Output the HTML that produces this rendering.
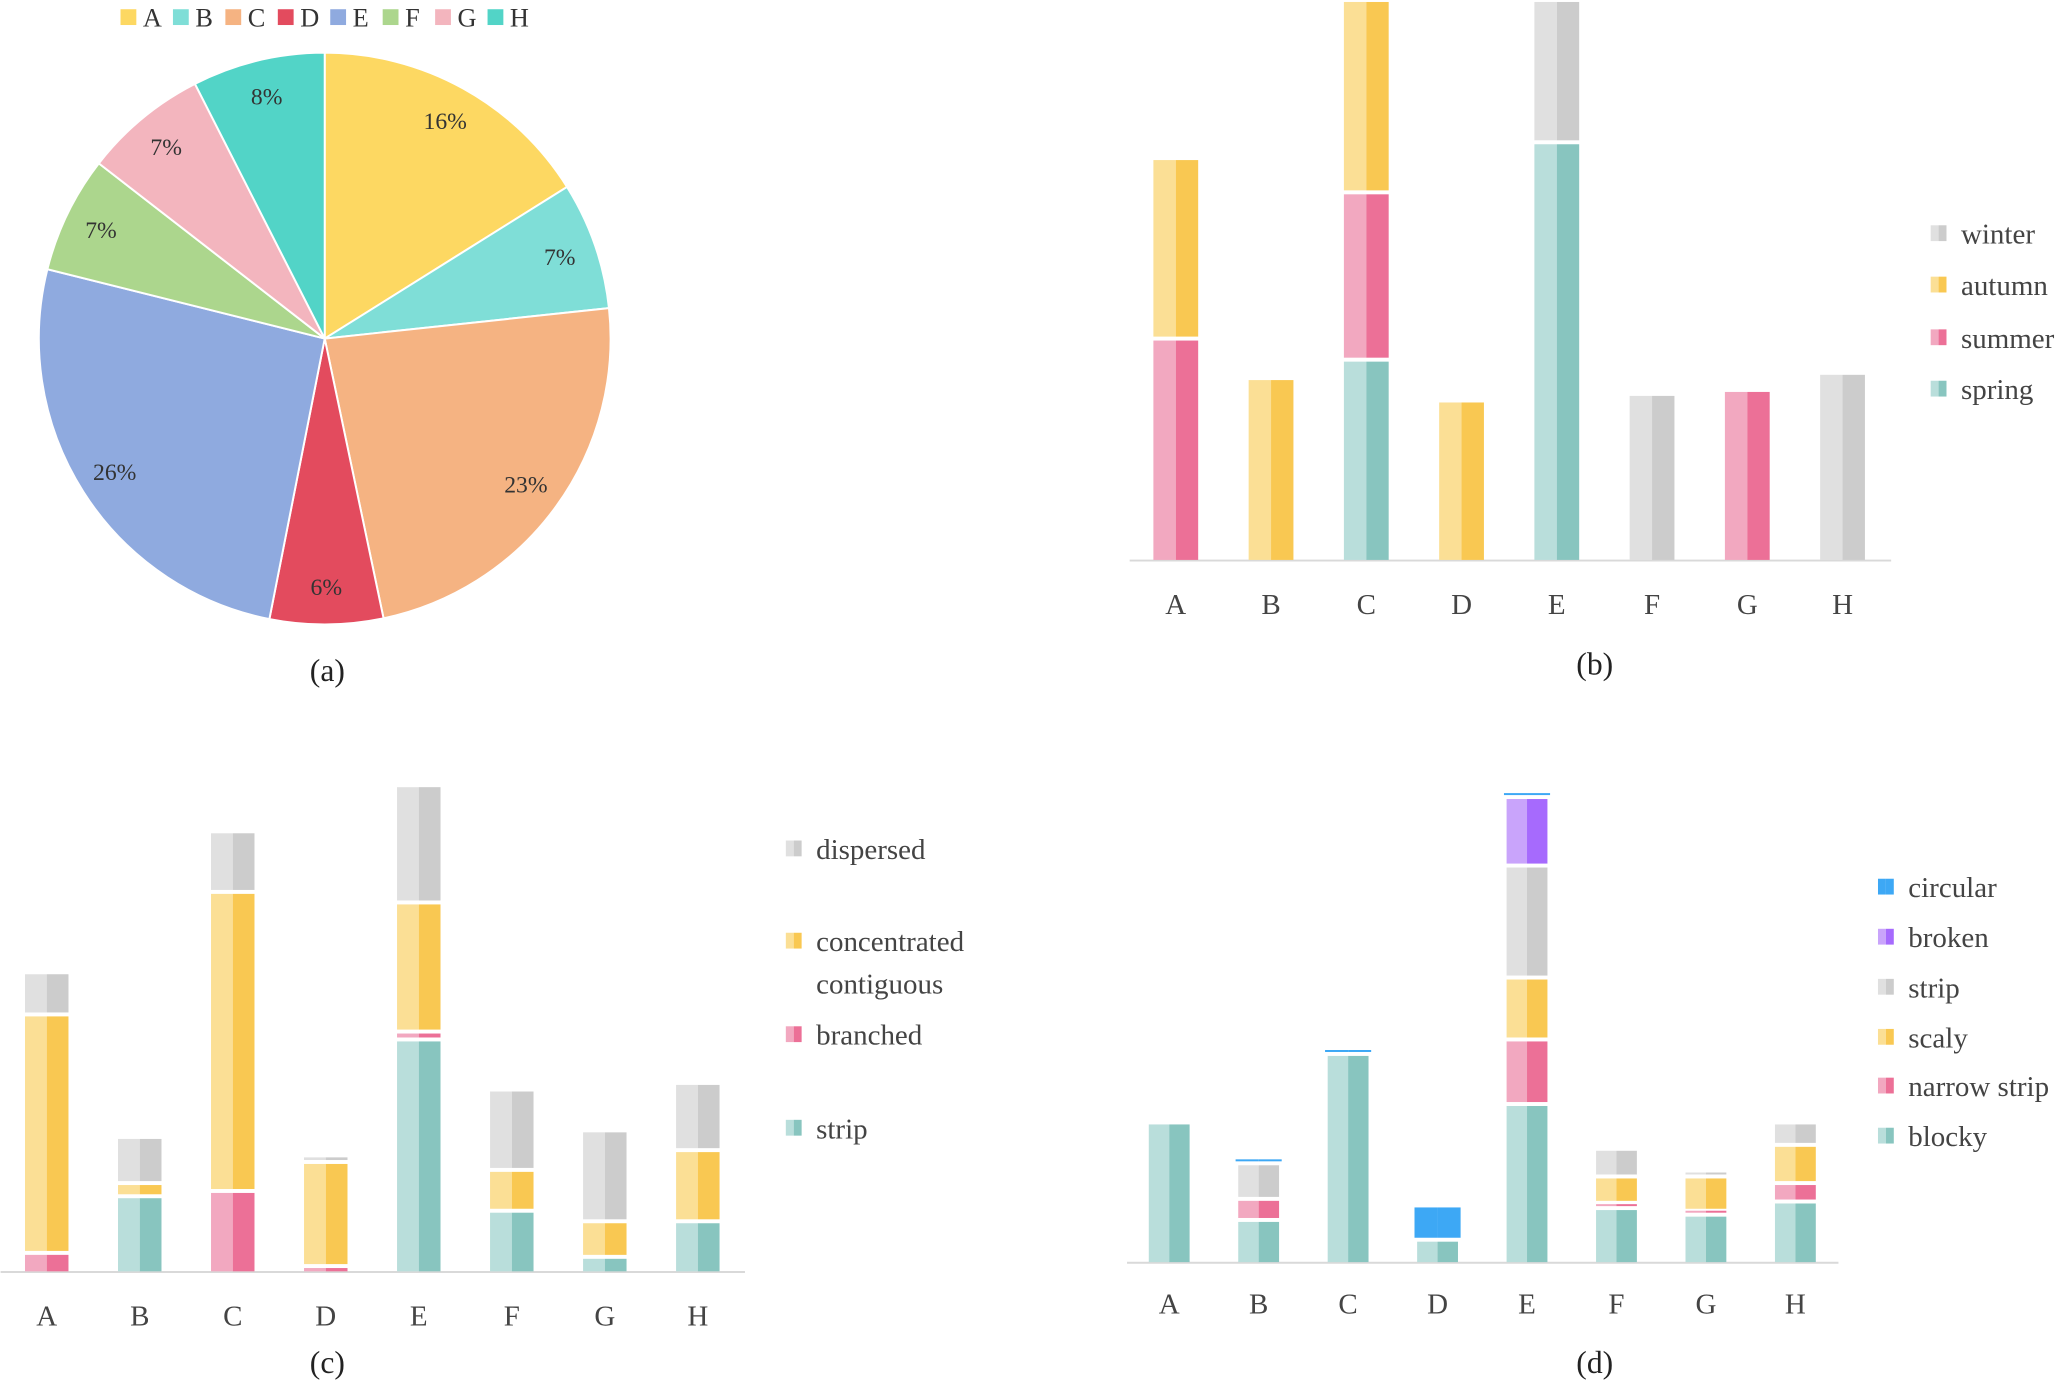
<!DOCTYPE html>
<html><head><meta charset="utf-8"><style>
html,body{margin:0;padding:0;background:#fff;}
svg{display:block;font-family:"Liberation Serif",serif;}
</style></head><body>
<svg id="root" width="2067" height="1382" viewBox="0 0 1568 1049" xmlns="http://www.w3.org/2000/svg">
<g id="pie"></g>
<g id="chartB"></g>
<g id="chartC"></g>
<g id="chartD"></g>
<text x="248" y="517" font-size="24" text-anchor="middle" fill="#222">(a)</text>
<text x="1210" y="512" font-size="24" text-anchor="middle" fill="#222">(b)</text>
<text x="248" y="1042" font-size="24" text-anchor="middle" fill="#222">(c)</text>
<text x="1210" y="1042" font-size="24" text-anchor="middle" fill="#222">(d)</text>
</svg>
<script>
const NS="http://www.w3.org/2000/svg";
// ---- data ----
const pieCats=["A","B","C","D","E","F","G","H"];
const pieVals=[16.1,7.2,23.4,6.4,25.8,6.6,7.0,7.5];
const pieColors=["#fdd862","#7fded7","#f5b382","#e34b5e","#8faadf","#acd68d","#f3b5be","#52d4c7"];

const barCats=["A","B","C","D","E","F","G","H"];
const bSeries=["spring","summer","autumn","winter"];
const bSpring=[0,0,152,0,317,0,0,0];
const bSummer=[168,0,127,0,0,0,129,0];
const bAutumn=[137,138,146,121,0,0,0,0];
const bWinter=[0,0,0,0,108,126,0,142];

const cSeries=["strip","branched","concentrated contiguous","dispersed"];
const cStrip=[0,57,0,0,176,46,11,38];
const cBranched=[14,0,61,4,6,0,0,0];
const cConc=[181,10,227,79,98,31,27,54];
const cDisp=[32,35,46,5,89,61,69,51];

const dSeries=["blocky","narrow strip","scaly","strip","broken","circular"];
const dBlocky=[106,32,158,17,120,41,36,46];
const dNarrow=[0,16,0,0,49,4,3,14];
const dScaly=[0,0,0,0,47,20,26,29];
const dStrip=[0,27,0,0,85,21,4,17];
const dBroken=[0,0,0,0,52,0,0,0];
const dCircular=[0,3,3,26,3,0,0,0];

const PAL={teal:["#b9dedb","#88c5bf"],pink:["#f2a8c0","#ec7097"],yellow:["#fbdf95","#f9c852"],gray:["#e0e0e0","#cccccc"],purple:["#c9a4fb","#a66afd"],blue:["#3da8f5","#3da8f5"]};

function el(tag,attrs,parent){const e=document.createElementNS(NS,tag);for(const k in attrs)e.setAttribute(k,attrs[k]);parent.appendChild(e);return e;}

// ---- pie ----
(function(){
  const g=document.getElementById('pie');
  const cx=246,cy=257,R=217;
  const total=pieVals.reduce((a,b)=>a+b,0);
  let a0=0;
  pieVals.forEach((v,i)=>{
    const a1=a0+v/total*2*Math.PI;
    const x0=cx+R*Math.sin(a0),y0=cy-R*Math.cos(a0),x1=cx+R*Math.sin(a1),y1=cy-R*Math.cos(a1);
    const p=el('path',{d:`M${cx},${cy}L${x0},${y0}A${R},${R} 0 ${a1-a0>Math.PI?1:0} 1 ${x1},${y1}Z`,fill:pieColors[i],stroke:'#fff','stroke-width':1.5},g);
    
    
    const am=(a0+a1)/2, rl=R*0.87;
    const t=el('text',{x:cx+rl*Math.sin(am),y:cy-rl*Math.cos(am)+6,'font-size':18,'text-anchor':'middle',fill:'#333'},g);
    t.textContent=Math.round(v/total*100)+'%';
    
    
    a0=a1;
  });
  pieCats.forEach((c,i)=>{
    const x=91+i*39.8;
    const s=el('rect',{x:x,y:7,width:12,height:12,fill:pieColors[i]},g);
    
    
    const t=el('text',{x:x+17,y:20,'font-size':20,fill:'#333'},g);
    t.textContent=c;
    
    
  });
})();

function barChart(gid,cfg){
  const g=document.getElementById(gid);
  const ax=el('line',{x1:cfg.x0,x2:cfg.x1,y1:cfg.base+0.5,y2:cfg.base+0.5,stroke:'#d9d9d9','stroke-width':1.5},g);
  
  
  const xS=i=>cfg.cx0+i*cfg.step;
  const yS=v=>cfg.base-v*cfg.k;
  barCats.forEach((c,i)=>{
    let cum=0;
    cfg.series.forEach((s,si)=>{
      const v=s.vals[i]; if(!v)return;
      const yb=yS(cum)-(cum>0?1.5:0), yt=yS(cum+v)+1.5;
      const h=Math.max(1.5,yb-yt);
      const col=PAL[s.col];
      const w=s.wide?cfg.bw+4:cfg.bw, x=xS(i)-w/2;
      const r1=el('rect',{x:x,y:yb-h,width:w/2,height:h,fill:col[0]},g);
      
      
      const r2=el('rect',{x:x+w/2,y:yb-h,width:w/2,height:h,fill:col[1]},g);
      
      
      cum+=v;
    });
    const t=el('text',{x:xS(i),y:cfg.tickY,'font-size':22,'text-anchor':'middle',fill:'#444'},g);
    t.textContent=c;
    
    
  });
  cfg.legend.forEach((L)=>{
    const col=PAL[L.col];
    const s1=el('rect',{x:cfg.lx,y:L.y-6,width:6,height:12,fill:col[0]},g);
    
    
    const s2=el('rect',{x:cfg.lx+6,y:L.y-6,width:6,height:12,fill:col[1]},g);
    
    
    L.text.forEach((tx,j)=>{
      const t=el('text',{x:cfg.lx+23,y:L.y+8+j*32,'font-size':22,fill:'#444'},g);
      t.textContent=tx;
      
      
    });
  });
}

barChart('chartB',{x0:857,x1:1435,base:425,cx0:892,step:72.3,bw:34,k:1,tickY:466,lx:1465,
  series:[{name:'spring',vals:bSpring,col:'teal'},{name:'summer',vals:bSummer,col:'pink'},{name:'autumn',vals:bAutumn,col:'yellow'},{name:'winter',vals:bWinter,col:'gray'}],
  legend:[{y:177,text:['winter'],col:'gray'},{y:216,text:['autumn'],col:'yellow'},{y:256,text:['summer'],col:'pink'},{y:295,text:['spring'],col:'teal'}]});

barChart('chartC',{x0:0,x1:565,base:965,cx0:35,step:70.6,bw:33,k:1,tickY:1006,lx:596,
  series:[{name:'strip',vals:cStrip,col:'teal'},{name:'branched',vals:cBranched,col:'pink'},{name:'concentrated',vals:cConc,col:'yellow'},{name:'dispersed',vals:cDisp,col:'gray'}],
  legend:[{y:644,text:['dispersed'],col:'gray'},{y:714,text:['concentrated','contiguous'],col:'yellow'},{y:785,text:['branched'],col:'pink'},{y:856,text:['strip'],col:'teal'}]});

barChart('chartD',{x0:855,x1:1395,base:958,cx0:887,step:67.9,bw:31,k:1,tickY:997,lx:1425,
  series:[{name:'blocky',vals:dBlocky,col:'teal'},{name:'narrow strip',vals:dNarrow,col:'pink'},{name:'scaly',vals:dScaly,col:'yellow'},{name:'strip',vals:dStrip,col:'gray'},{name:'broken',vals:dBroken,col:'purple'},{name:'circular',vals:dCircular,col:'blue',wide:true}],
  legend:[{y:673,text:['circular'],col:'blue'},{y:711,text:['broken'],col:'purple'},{y:749,text:['strip'],col:'gray'},{y:787,text:['scaly'],col:'yellow'},{y:824,text:['narrow strip'],col:'pink'},{y:862,text:['blocky'],col:'teal'}]});
</script>
</body></html>
